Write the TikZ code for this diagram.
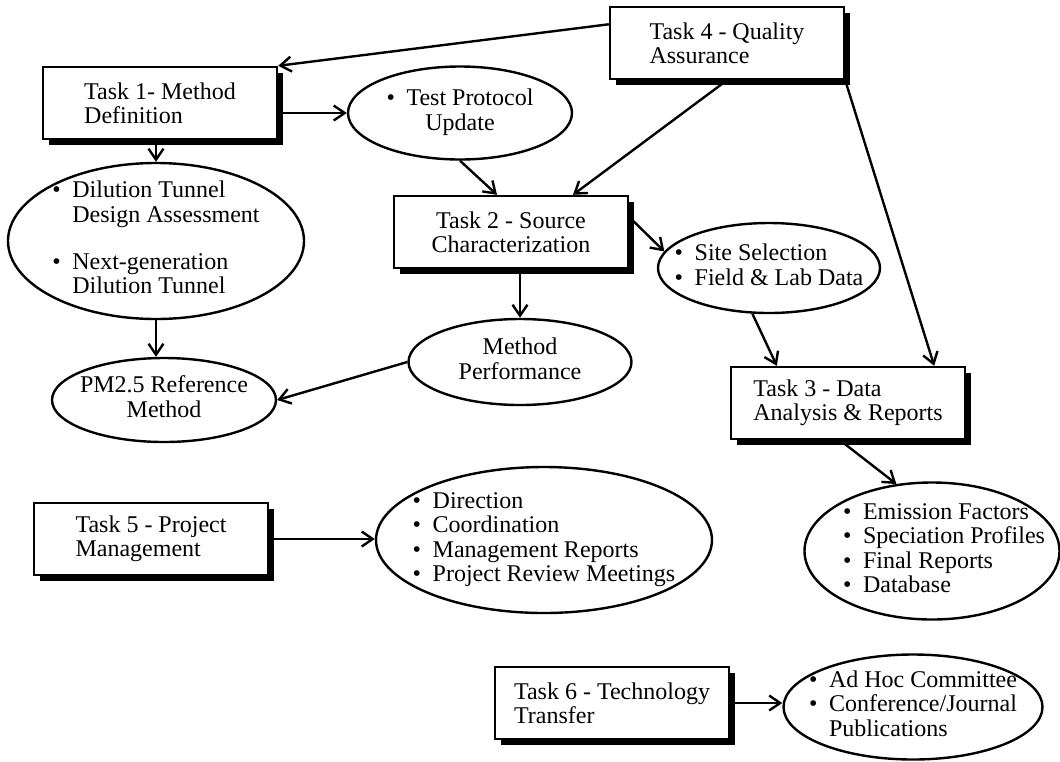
\documentclass[tikz,border=0pt]{standalone}
\usepackage{fontspec}
\setmainfont{Liberation Serif}
\usetikzlibrary{shapes.geometric, shadows, arrows.meta}
\tikzset{
task/.style={draw, fill=white, minimum width=117pt, minimum height=36pt, inner sep=0pt, align=left, drop shadow={shadow xshift=3pt, shadow yshift=-3pt, fill=black, opacity=1}}, bubble/.style={ellipse, draw, inner sep=0pt}}
\newcommand{\itembul}{\makebox[10pt][l]{\textbullet}}
\newcommand{\bulgap}{\hspace*{10pt}}
\newcommand{\bubtext}[3][0pt]{\smash{\makebox[0pt]{\hspace*{#1}\raisebox{-3pt}{\begin{tabular}{@{}#2@{}}#3\end{tabular}}}}}

\begin{document}
\begin{tikzpicture}[x=0.5pt, y=-0.5pt, line width=1.2pt, font=\fontsize{12}{12.2}\selectfont, >={Straight Barb[length=5.5pt, width=7.5pt]}]
\useasboundingbox (0,0) rectangle (1060,761);
% tasks
\node [task] (t1) at (160,103) {Task 1- Method\\Definition};
\node [task] (t4) at (727,43) {Task 4 - Quality\\Assurance};
\node [task, align=center] (t2) at (511,232) {Task 2 - Source\\Characterization};
\node [task] (t3) at (848,403) {Task 3 - Data\\Analysis \& Reports};
\node [task] (t5) at (151,539) {Task 5 - Project\\Management};
\node [task] (t6) at (612,703) {Task 6 - Technology\\Transfer};
% products
\node [bubble, minimum width=112pt, minimum height=46.5pt] (tpu) at (460,113) {\bubtext{c}{\itembul Test Protocol\\Update}};
\node [bubble, minimum width=148pt, minimum height=78pt] (dil) at (156,241) {\bubtext{l}{\itembul Dilution Tunnel\\\bulgap Design Assessment\\[11.5pt]\itembul Next-generation\\\bulgap Dilution Tunnel}};
\node [bubble, minimum width=111pt, minimum height=45pt] (site) at (769,268) {\bubtext{l}{\itembul Site Selection\\\itembul Field \& Lab Data}};
\node [bubble, minimum width=111.5pt, minimum height=43pt] (mp) at (520,362) {\bubtext{c}{Method\\Performance}};
\node [bubble, minimum width=112pt, minimum height=42pt] (pm) at (164,400) {\bubtext{c}{PM2.5 Reference\\Method}};
\node [bubble, minimum width=168pt, minimum height=73pt] (dir) at (544,540) {\bubtext{l}{\itembul Direction\\\itembul Coordination\\\itembul Management Reports\\\itembul Project Review Meetings}};
\node [bubble, minimum width=127.5pt, minimum height=68.5pt] (emis) at (932,551) {\bubtext[12pt]{l}{\itembul Emission Factors\\\itembul Speciation Profiles\\\itembul Final Reports\\\itembul Database}};
\node [bubble, minimum width=129.5pt, minimum height=52.5pt] (conf) at (913,707) {\bubtext{l}{\itembul Ad Hoc Committee\\\itembul Conference/Journal\\\bulgap Publications}};
% links
\draw [->] (t4.171) -- (t1.north east);
\draw [->] (t1.east |- tpu.west) -- (tpu.west);
\draw [->] (t1.south -| dil.north) -- (dil.north);
\draw [->] (dil.south) -- (dil.south |- pm.north);
\draw [->] (tpu.south) -- ([xshift=-7pt]t2.north);
\draw [->] (t4.south) -- ([xshift=31pt]t2.north);
\draw [->] (t4.south east) -- ([xshift=-16pt]t3.north east);
\draw [->] ([yshift=7.5pt]t2.east) -- (site.171);
\draw [->] (t2.south -| mp.north) -- (mp.north);
\draw [->] (mp.west) -- (pm.east);
\draw [->] (site.250) -- ([xshift=23.5pt]t3.north west);
\draw [->] ([xshift=-4pt]t3.south) -- (emis.118);
\draw [->] (t5.east) -- (t5.east -| dir.west);
\draw [->] (t6.east) -- (t6.east -| conf.west);
\end{tikzpicture}
\end{document}
